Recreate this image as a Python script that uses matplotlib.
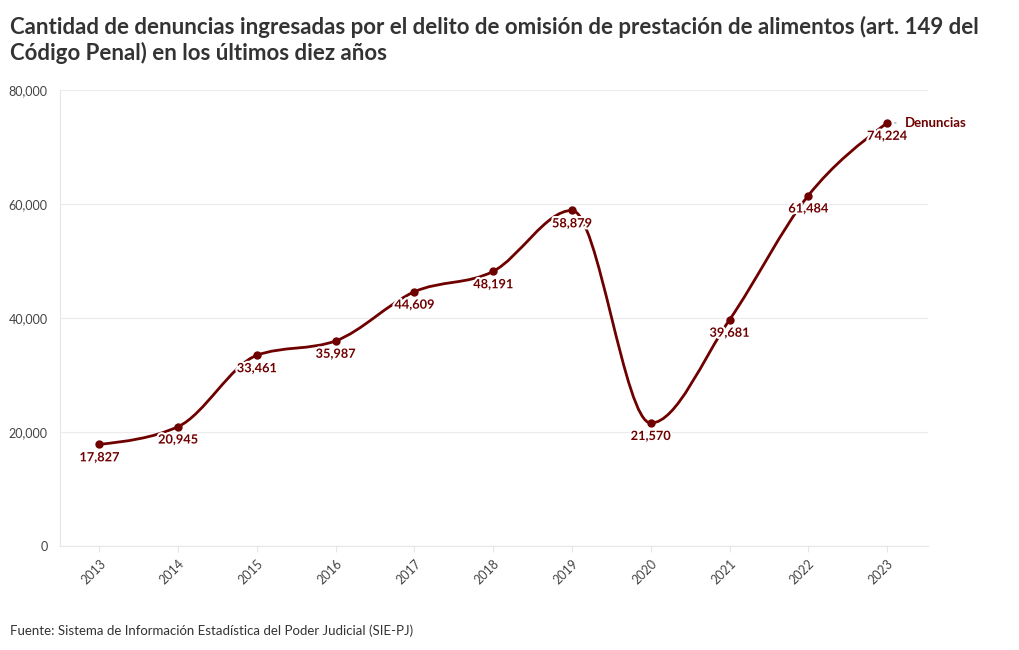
import numpy as np
import matplotlib
matplotlib.use("Agg")
import matplotlib.pyplot as plt
from matplotlib.path import Path
from matplotlib.patches import PathPatch
import matplotlib.patheffects as pe
from matplotlib.ticker import FuncFormatter

plt.rcParams['font.family'] = ['Lato', 'DejaVu Sans']

years = [2013, 2014, 2015, 2016, 2017, 2018, 2019, 2020, 2021, 2022, 2023]
denuncias = [17827, 20945, 33461, 35987, 44609, 48191, 58879, 21570, 39681, 61484, 74224]
series_name = "Denuncias"
title = ("Cantidad de denuncias ingresadas por el delito de omisión de prestación de alimentos (art. 149 del\n"
         "Código Penal) en los últimos diez años")
source = "Fuente: Sistema de Información Estadística del Poder Judicial (SIE-PJ)"

red = "#6f0000"


def monotone_path(x, y):
    # monotone cubic (like d3.curveMonotoneX) as bezier segments
    x = np.asarray(x, float)
    y = np.asarray(y, float)
    n = len(x)
    h = np.diff(x)
    s = np.diff(y) / h
    t = np.zeros(n)
    for i in range(1, n - 1):
        p = (s[i - 1] * h[i] + s[i] * h[i - 1]) / (h[i - 1] + h[i])
        t[i] = (np.sign(s[i - 1]) + np.sign(s[i])) * min(abs(s[i - 1]), abs(s[i]), 0.5 * abs(p))
    t[0] = (3 * s[0] - t[1]) / 2
    t[-1] = (3 * s[-1] - t[-2]) / 2
    verts = [(x[0], y[0])]
    codes = [Path.MOVETO]
    for i in range(n - 1):
        dx = h[i] / 3
        verts += [(x[i] + dx, y[i] + dx * t[i]), (x[i + 1] - dx, y[i + 1] - dx * t[i + 1]), (x[i + 1], y[i + 1])]
        codes += [Path.CURVE4] * 3
    return Path(verts, codes)


fig = plt.figure(figsize=(10.2, 6.5), dpi=100)
ax = fig.add_axes([0.0588, 0.16, 0.851, 0.7015])

ax.add_patch(PathPatch(monotone_path(years, denuncias), fill=False, edgecolor=red,
                       linewidth=2.0, capstyle='round', joinstyle='round', zorder=3))
ax.plot(years, denuncias, 'o', color=red, markersize=5, zorder=4)

halo = [pe.withStroke(linewidth=3, foreground='white')]
for x, y in zip(years, denuncias):
    ax.annotate(f"{y:,}", (x, y), xytext=(0, -5), textcoords='offset points',
                ha='center', va='top', fontsize=9.2, fontweight='bold', color=red,
                path_effects=halo, zorder=5)

ax.annotate("", (years[-1] + 0.06, denuncias[-1]), xytext=(years[-1] + 0.15, denuncias[-1]),
            arrowprops=dict(arrowstyle='-', color='#999999', lw=0.8))
ax.annotate(series_name, (years[-1], denuncias[-1]), xytext=(13, 0), textcoords='offset points',
            ha='left', va='center', fontsize=9.5, fontweight='bold', color=red)

ax.set_xlim(2012.5, 2023.52)
ax.set_ylim(0, 80000)
ax.set_yticks([0, 20000, 40000, 60000, 80000])
ax.yaxis.set_major_formatter(FuncFormatter(lambda v, p: f"{int(v):,}"))
ax.set_xticks(years)
ax.set_xticklabels([str(y) for y in years], rotation=45, ha='right', rotation_mode='anchor')
ax.grid(axis='y', color='#ebebeb', linewidth=0.8)
ax.set_axisbelow(True)
for side in ['top', 'right']:
    ax.spines[side].set_visible(False)
for side in ['left', 'bottom']:
    ax.spines[side].set_color('#e6e6e6')
    ax.spines[side].set_linewidth(0.8)
ax.tick_params(axis='y', length=0, pad=9, labelsize=9, labelcolor='#444444')
ax.tick_params(axis='x', length=4, color='#e6e6e6', pad=4, labelsize=9, labelcolor='#444444')

fig.text(0.0098, 0.975, title, ha='left', va='top', fontsize=16, fontweight='bold',
         color='#333333', linespacing=1.2)
fig.text(0.0098, 0.03, source, ha='left', va='center', fontsize=9.5, color='#333333')

fig.savefig("out.png", dpi=100)
